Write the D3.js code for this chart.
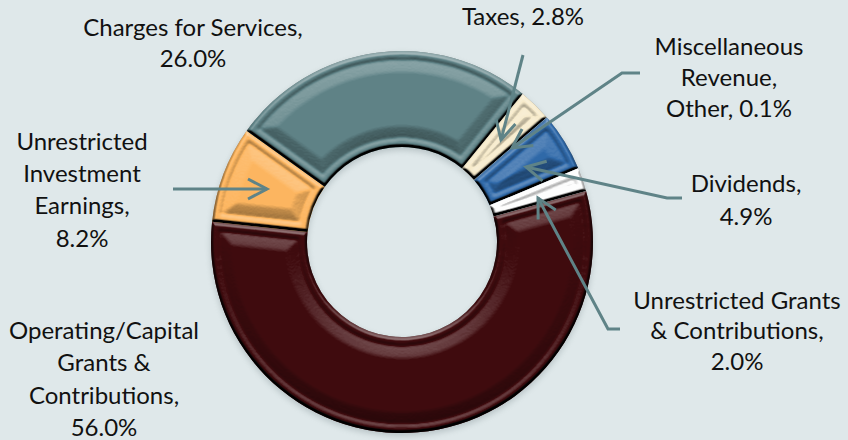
<!DOCTYPE html>
<html><head><meta charset="utf-8">
<script src="https://cdn.jsdelivr.net/npm/d3@7"></script>
<style>
html,body{margin:0;padding:0;background:#dfe8ea;overflow:hidden}
text{font-family:Lato,"Open Sans",sans-serif;font-size:24px;fill:#111;text-anchor:middle}
</style></head><body>
<svg id="c" width="848" height="440"></svg>
<script>
const categories = ["Operating/Capital Grants & Contributions","Unrestricted Investment Earnings","Charges for Services","Taxes","Miscellaneous Revenue, Other","Dividends","Unrestricted Grants & Contributions"];
const shares = [56.0, 8.2, 26.0, 2.8, 0.1, 4.9, 2.0];
const colors = ["#3f0b0e","#fdb660","#5f8387","#f7ebcb","#3c78b0","#2f69a9","#fdfdfd"];
const labelLines = [
  ["Operating/Capital","Grants &","Contributions,","56.0%"],
  ["Unrestricted","Investment","Earnings,","8.2%"],
  ["Charges for Services,","26.0%"],
  ["Taxes, 2.8%"],
  ["Miscellaneous","Revenue,","Other, 0.1%"],
  ["Dividends,","4.9%"],
  ["Unrestricted Grants","& Contributions,","2.0%"]
];
const labelAnchors = [[104,[339,371,404,436]],[82,[150,182,214,247]],[193,[36,67]],[523,[25]],[729,[55,86,117]],[746,[192,225]],[737,[309,339,370]]];
const leaders = [
  null,
  [[173,189],[267,189]],
  null,
  [[523,55],[501,140]],
  [[640,73],[622,73],[512,148]],
  [[682,198],[667,198],[526,167]],
  [[620,329],[608,329],[538,198]]
];
const cx=402, cy=242, R=191, r0=95, TAU=Math.PI*2, start=74.5*Math.PI/180;
const svg=d3.select("#c");
const defs=svg.append("defs");
const pie=d3.pie().sort(null).value(d=>d).startAngle(start).endAngle(start+TAU);
const arcs=pie(shares);
const arc=d3.arc().innerRadius(r0).outerRadius(R);

const f=defs.append("filter").attr("id","bevel").attr("filterUnits","userSpaceOnUse")
  .attr("x",0).attr("y",0).attr("width",848).attr("height",440)
  .attr("color-interpolation-filters","sRGB");
f.append("feGaussianBlur").attr("in","SourceAlpha").attr("stdDeviation",1.7).attr("result","h");
f.append("feDiffuseLighting").attr("in","h").attr("surfaceScale",10).attr("diffuseConstant",0.707)
  .attr("lighting-color","#fff").attr("result","lit").append("feDistantLight").attr("azimuth",270).attr("elevation",45);
f.append("feGaussianBlur").attr("in","lit").attr("stdDeviation",0.7);
const sh=defs.append("filter").attr("id","shadow").attr("x","-10%").attr("y","-10%").attr("width","120%").attr("height","120%");
sh.append("feGaussianBlur").attr("stdDeviation",3);
defs.append("marker").attr("id","head").attr("markerUnits","userSpaceOnUse")
  .attr("viewBox","-24 -14 28 28").attr("markerWidth",28).attr("markerHeight",28)
  .attr("refX",0).attr("refY",0).attr("orient","auto")
  .append("path").attr("d","M-19,-10L0,0L-19,10").attr("fill","none").attr("stroke","#5f8387").attr("stroke-width",3);

const radial=d3.lineRadial().angle(d=>d[0]).radius(d=>d[1]).curve(d3.curveLinearClosed);
function inset(a,d){
  const ro=R-d, ri=r0+d, mid=(a.startAngle+a.endAngle)/2, pts=[];
  const lo=rr=>Math.min(mid,a.startAngle+Math.asin(Math.min(1,d/rr)));
  const hi=rr=>Math.max(mid,a.endAngle-Math.asin(Math.min(1,d/rr)));
  if(d>0 && lo(ro)>=mid && lo(ri)>=mid) return null;
  const n=Math.max(4,Math.ceil((a.endAngle-a.startAngle)*40));
  for(let i=0;i<=n;i++){pts.push([lo(ro)+(hi(ro)-lo(ro))*i/n,ro]);}
  for(let i=n;i>=0;i--){pts.push([lo(ri)+(hi(ri)-lo(ri))*i/n,ri]);}
  return radial(pts);
}
const root=svg.append("g").attr("transform",`translate(${cx},${cy})`);
root.append("path").attr("d",d3.arc().innerRadius(r0).outerRadius(R)({startAngle:0,endAngle:TAU}))
  .attr("fill","#5a6a70").attr("opacity",.3).attr("transform","translate(0,3)").attr("filter","url(#shadow)");

arcs.forEach((a,i)=>{
  const g=root.append("g").style("isolation","isolate");
  const id="clip"+i;
  defs.append("clipPath").attr("id",id).attr("clipPathUnits","userSpaceOnUse")
    .append("path").attr("transform",`translate(${cx},${cy})`).attr("d",arc(a));
  g.append("path").attr("d",arc(a)).attr("fill",colors[i]);
  const light=g.append("g").attr("transform",`translate(${-cx},${-cy})`).attr("clip-path",`url(#${id})`).style("mix-blend-mode","hard-light");
  const hm=light.append("g").attr("filter","url(#bevel)").append("g").attr("transform",`translate(${cx},${cy})`);
  const base=arc(a), p0=inset(a,8);
  hm.append("path").attr("d",base+(p0||"")).attr("fill-rule","evenodd").attr("fill","#000").attr("fill-opacity",.5);
  if(p0){
    hm.append("path").attr("d",p0).attr("fill","#000").attr("fill-opacity",.43);
    d3.range(0,7).forEach(k=>{
      const p=inset(a,9+k*1.8);
      if(p) hm.append("path").attr("d",p).attr("fill","#000").attr("fill-opacity",.055);
    });
  }
});

const line=d3.line();
leaders.forEach(l=>{ if(!l) return;
  svg.append("path").attr("d",line(l)).attr("fill","none").attr("stroke","#5f8387").attr("stroke-width",3).attr("marker-end","url(#head)");
});
labelLines.forEach((ls,i)=>{
  const [x,ys]=labelAnchors[i];
  ls.forEach((t,j)=>svg.append("text").attr("x",x).attr("y",ys[j]).text(t));
});
</script></body></html>
